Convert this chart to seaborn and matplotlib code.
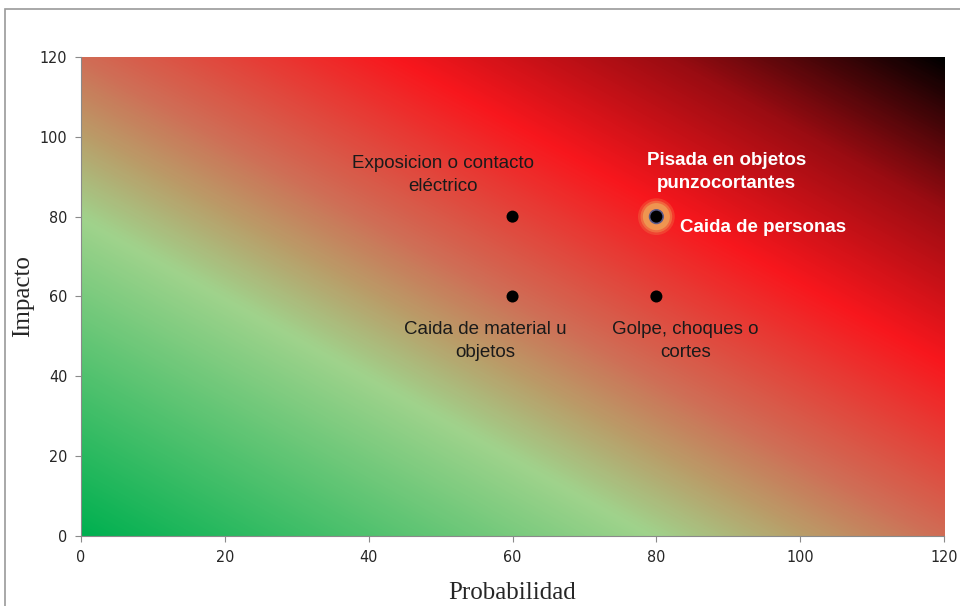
import matplotlib
matplotlib.use("Agg")
import matplotlib.pyplot as plt
from matplotlib.colors import LinearSegmentedColormap
from matplotlib.patches import Rectangle
import numpy as np
import pandas as pd
import seaborn as sns

# risk points
riesgos = ["Exposicion o contacto\neléctrico", "Caida de material u\nobjetos",
           "Caida de personas", "Golpe, choques o\ncortes"]
probabilidad = [60, 60, 80, 80]
impacto = [80, 60, 80, 60]
ticks = [0, 20, 40, 60, 80, 100, 120]

df = pd.DataFrame({"Probabilidad": probabilidad, "Impacto": impacto, "Riesgo": riesgos})

sns.set_style("white")
fig = plt.figure(figsize=(9.6, 6.06), dpi=100)
ax = fig.add_axes([0.0844, 0.1155, 0.899, 0.7905])

# outer frame like the original sheet
fig.patches.append(Rectangle((5 / 960, -0.05), 1.1, 1 - 9 / 606 + 0.05, transform=fig.transFigure,
                             fill=False, edgecolor="#9a9a9a", linewidth=1.2))

# diagonal risk gradient background
cmap = LinearSegmentedColormap.from_list("riesgo", [
    (0.0, "#00B050"), (0.33, "#A0D38C"), (0.42, "#BA9C68"), (0.5, "#D06C55"),
    (0.68, "#F8171D"), (0.84, "#9A0C12"), (1.0, "#000000")])
gx, gy = np.meshgrid(np.linspace(0, 120, 400), np.linspace(0, 120, 400))
ax.imshow((gx + gy) / 240, extent=[0, 120, 0, 120], origin="lower", cmap=cmap,
          vmin=0, vmax=1, aspect="auto", interpolation="bilinear", zorder=0)

# glow behind the highlighted point
glow = df[df["Riesgo"] == "Caida de personas"]
for s, a in [(700, 0.25), (520, 0.45), (380, 0.8)]:
    ax.scatter(glow["Probabilidad"], glow["Impacto"], s=s, color="#EFA055",
               alpha=a, edgecolor="none", zorder=2)
ax.scatter(glow["Probabilidad"], glow["Impacto"], s=120, color="#5a5a8a",
           edgecolor="none", zorder=2)

sns.scatterplot(data=df, x="Probabilidad", y="Impacto", color="black", s=75,
                edgecolor="none", ax=ax, zorder=3, legend=False)

txt = dict(fontsize=13.5, family="Liberation Sans", ha="center", va="center")
ax.text(50.3, 90.4, "Exposicion o contacto\neléctrico", color="#1a1a1a", linespacing=1.5, **txt)
ax.text(56.2, 48.9, "Caida de material u\nobjetos", color="#1a1a1a", linespacing=1.5, **txt)
ax.text(84.0, 48.9, "Golpe, choques o\ncortes", color="#1a1a1a", linespacing=1.5, **txt)
ax.text(89.8, 91.2, "Pisada en objetos\npunzocortantes", color="white", fontweight="bold",
        linespacing=1.5, **txt)
ax.text(94.8, 77.2, "Caida de personas", color="white", fontweight="bold", **txt)

ax.set_xlim(0, 120)
ax.set_ylim(0, 120)
ax.set_xticks(ticks)
ax.set_yticks(ticks)
ax.tick_params(axis="both", which="both", direction="out", length=4, width=0.8,
               color="#8a8a8a", labelsize=11.5, bottom=True, left=True, pad=6)
for lab in ax.get_xticklabels() + ax.get_yticklabels():
    lab.set_family("DejaVu Sans")
    lab.set_stretch("condensed")
for side in ["top", "right"]:
    ax.spines[side].set_visible(False)
for side in ["left", "bottom"]:
    ax.spines[side].set_color("#8a8a8a")
    ax.spines[side].set_linewidth(0.8)

ax.set_xlabel("Probabilidad", family="Liberation Serif", fontsize=18, labelpad=12)
ax.set_ylabel("Impacto", family="Liberation Serif", fontsize=18, labelpad=4)

fig.savefig("out.png", dpi=100)
